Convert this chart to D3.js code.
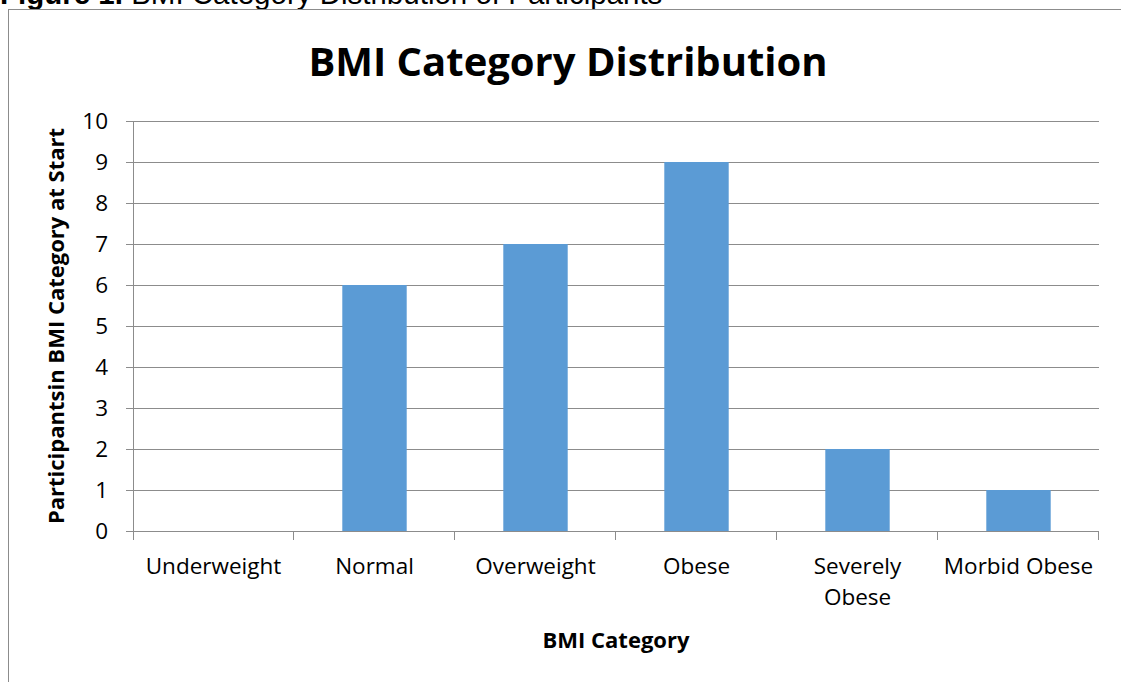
<!DOCTYPE html>
<html>
<head>
<meta charset="utf-8">
<script src="https://cdn.jsdelivr.net/npm/d3@7"></script>
<style>
  body { margin: 0; background: #fff; }
  text { font-family: "Open Sans", Lato, sans-serif; fill: #000; }
</style>
</head>
<body>
<div id="chart"></div>
<script>
// chart data
var categories = ["Underweight", "Normal", "Overweight", "Obese", "Severely Obese", "Morbid Obese"];
var counts = [0, 6, 7, 9, 2, 1];
var yTicks = [0, 1, 2, 3, 4, 5, 6, 7, 8, 9, 10];

var svgWidth = 1121;
var svgHeight = 682;

var margin = { top: 121, right: 22, bottom: 151, left: 133 };
var width = svgWidth - margin.left - margin.right;
var height = svgHeight - margin.top - margin.bottom;

var svg = d3.select("#chart")
  .append("svg")
  .attr("width", svgWidth)
  .attr("height", svgHeight);

// caption cut off at the top of the page
var caption = svg.append("text")
  .attr("x", 0)
  .attr("y", 4)
  .style("font-family", "'Liberation Sans', Arial, sans-serif")
  .style("font-size", "29.5px");
caption.append("tspan").style("font-weight", "bold").text("Figure 1.");
caption.append("tspan").text(" BMI Category Distribution of Participants");

// chart border
svg.append("rect")
  .attr("x", 8.5)
  .attr("y", 9.5)
  .attr("width", svgWidth + 10)
  .attr("height", svgHeight + 10)
  .attr("fill", "none")
  .attr("stroke", "#8c8c8c")
  .attr("stroke-width", 1);

var chartGroup = svg.append("g")
  .attr("transform", `translate(${margin.left}, ${margin.top})`);

var xBand = d3.scaleBand()
  .domain(categories)
  .range([0, width])
  .paddingInner(0.6)
  .paddingOuter(0.3);

var xEdge = d3.scaleLinear()
  .domain([0, categories.length])
  .range([0, width]);

var yLinearScale = d3.scaleLinear()
  .domain([0, 10])
  .range([height, 0]);

// gridlines + y axis
var leftAxis = d3.axisLeft(yLinearScale)
  .tickValues(yTicks)
  .tickSize(-width)
  .tickPadding(25)
  .tickFormat(d3.format("d"));

var yAxisG = chartGroup.append("g").call(leftAxis);
yAxisG.select(".domain").remove();
yAxisG.selectAll(".tick line")
  .attr("stroke", "#8c8c8c")
  .attr("x1", -7);
yAxisG.selectAll(".tick text")
  .style("font-size", "22.5px");

// bars
chartGroup.selectAll("rect.bar")
  .data(counts)
  .enter()
  .append("rect")
  .attr("class", "bar")
  .attr("x", (d, i) => xBand(categories[i]))
  .attr("y", d => yLinearScale(d))
  .attr("width", xBand.bandwidth())
  .attr("height", d => height - yLinearScale(d))
  .attr("fill", "#5b9bd5");

// x axis line and ticks
chartGroup.append("line")
  .attr("x1", 0).attr("x2", width)
  .attr("y1", height + 0.5).attr("y2", height + 0.5)
  .attr("stroke", "#8c8c8c");

chartGroup.append("line")
  .attr("x1", 0.5).attr("x2", 0.5)
  .attr("y1", 0).attr("y2", height + 9)
  .attr("stroke", "#8c8c8c");

chartGroup.selectAll("line.xtick")
  .data(d3.range(1, categories.length + 1))
  .enter()
  .append("line")
  .attr("class", "xtick")
  .attr("x1", d => xEdge(d) - 0.5)
  .attr("x2", d => xEdge(d) - 0.5)
  .attr("y1", height)
  .attr("y2", height + 9)
  .attr("stroke", "#8c8c8c");

// category labels, wrapping "Severely Obese"
chartGroup.selectAll("text.xlabel")
  .data(categories)
  .enter()
  .append("text")
  .attr("class", "xlabel")
  .attr("text-anchor", "middle")
  .attr("transform", d => `translate(${xBand(d) + xBand.bandwidth() / 2}, ${height + 43})`)
  .style("font-size", "22.5px")
  .each(function(d) {
    var lines = d === "Severely Obese" ? ["Severely", "Obese"] : [d];
    d3.select(this).selectAll("tspan")
      .data(lines)
      .enter()
      .append("tspan")
      .attr("x", 0)
      .attr("dy", (l, i) => i === 0 ? 0 : 31)
      .text(l => l);
  });

// title
svg.append("text")
  .attr("x", 568)
  .attr("y", 76)
  .attr("text-anchor", "middle")
  .style("font-size", "40px")
  .style("font-weight", "bold")
  .text("BMI Category Distribution");

// axis titles
chartGroup.append("text")
  .attr("transform", "rotate(-90)")
  .attr("x", 0 - height / 2)
  .attr("y", 0 - margin.left + 64)
  .attr("text-anchor", "middle")
  .style("font-size", "22px")
  .style("font-weight", "bold")
  .text("Participantsin BMI Category at Start");

chartGroup.append("text")
  .attr("transform", `translate(${width / 2}, ${height + 117})`)
  .attr("text-anchor", "middle")
  .style("font-size", "22px")
  .style("font-weight", "bold")
  .text("BMI Category");
</script>
</body>
</html>
